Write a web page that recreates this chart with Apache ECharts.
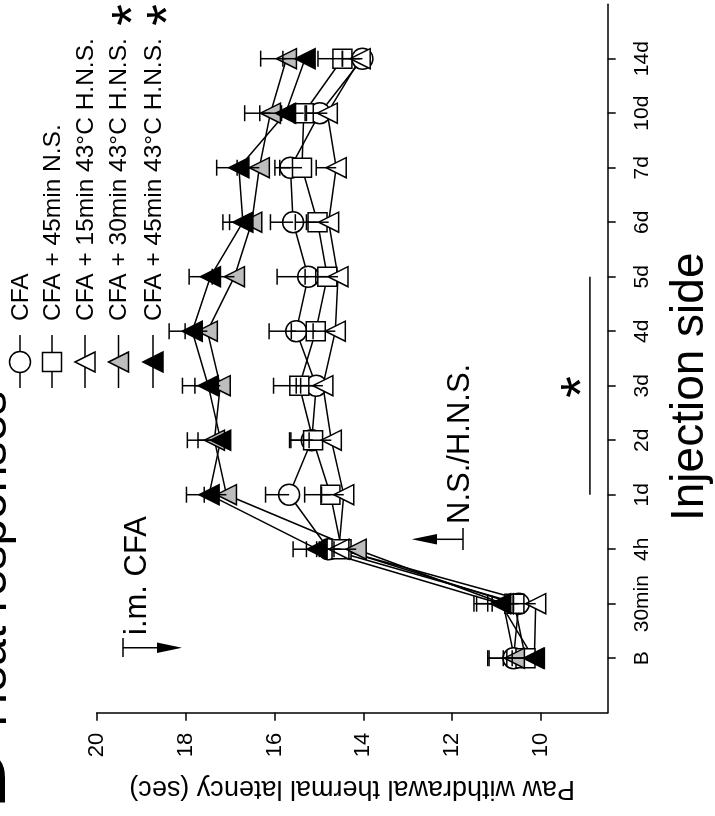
<!DOCTYPE html>
<html>
<head>
<meta charset="utf-8">
<script src="https://cdn.jsdelivr.net/npm/echarts@6/dist/echarts.min.js"></script>
<style>
  html, body { margin: 0; padding: 0; background: #fff; }
  #chart { width: 715px; height: 816px; }
</style>
</head>
<body>
<div id="chart"></div>
<script>
// time points (category axis, drawn vertically)
const categories = ['B', '30min', '4h', '1d', '2d', '3d', '4d', '5d', '6d', '7d', '10d', '14d'];
const valueTicks = [10, 12, 14, 16, 18, 20];
const seriesNames = [
  'CFA',
  'CFA + 45min N.S.',
  'CFA + 15min 43°C H.N.S.',
  'CFA + 30min 43°C H.N.S.',
  'CFA + 45min 43°C H.N.S.'
];

// paw withdrawal latency (sec), mean and SEM
const cfa      = [10.62, 10.50, 14.78, 15.67, 15.16, 15.06, 15.51, 15.24, 15.58, 15.64, 14.98, 14.02];
const cfaErr   = [0.55, 0.60, 0.50, 0.53, 0.50, 0.45, 0.61, 0.70, 0.51, 0.35, 0.30, 0.45];
const ns45     = [10.35, 10.60, 14.49, 14.74, 15.13, 15.44, 15.07, 14.81, 15.03, 15.38, 15.34, 14.47];
const ns45Err  = [0.50, 0.60, 0.50, 0.58, 0.50, 0.58, 0.55, 0.50, 0.50, 0.50, 0.50, 0.55];
const hns15    = [10.15, 10.12, 14.55, 14.44, 14.72, 14.91, 14.63, 14.57, 14.78, 14.61, 14.81, 14.07];
const hns15Err = [0.50, 0.50, 0.50, 0.50, 0.50, 0.50, 0.50, 0.50, 0.50, 0.45, 0.50, 0.40];
const hns30    = [10.60, 10.85, 14.16, 17.08, 17.35, 17.22, 17.51, 16.90, 16.51, 16.34, 16.09, 15.73];
const hns30Err = [0.60, 0.60, 0.50, 0.50, 0.61, 0.57, 0.50, 0.50, 0.50, 0.50, 0.58, 0.58];
const hns45    = [10.17, 10.91, 15.04, 17.47, 17.21, 17.49, 17.85, 17.44, 16.71, 16.80, 15.75, 15.31];
const hns45Err = [0.60, 0.60, 0.54, 0.51, 0.51, 0.58, 0.52, 0.48, 0.45, 0.50, 0.58, 0.50];

// significance bar: from 1d to 5d
const sigFrom = '1d';
const sigTo = '5d';

const FONT = '"Liberation Sans", Arial, Helvetica, sans-serif';
const groups = [cfa, ns45, hns15, hns30, hns45];
const errs = [cfaErr, ns45Err, hns15Err, hns30Err, hns45Err];
const marks = [
  { symbol: 'circle', size: 21, rotate: 0, fill: '#ffffff' },
  { symbol: 'rect', size: 19, rotate: 0, fill: '#ffffff' },
  { symbol: 'triangle', size: 20, rotate: 90, fill: '#ffffff' },
  { symbol: 'triangle', size: 20, rotate: 90, fill: '#bdbdbd' },
  { symbol: 'triangle', size: 20, rotate: 90, fill: '#000000' }
];
const catIdx = categories.map((c, i) => i);

const chart = echarts.init(document.getElementById('chart'));

const lineSeries = groups.map((vals, g) => ({
  name: seriesNames[g],
  type: 'line',
  data: vals.map((v, i) => [v, i]),
  symbol: marks[g].symbol,
  symbolSize: marks[g].size,
  symbolRotate: marks[g].rotate,
  showAllSymbol: true,
  clip: false,
  lineStyle: { color: '#000', width: 1.5 },
  itemStyle: { color: marks[g].fill, borderColor: '#000', borderWidth: 1.5 },
  emphasis: { disabled: true },
  z: 2
}));

const errSeries = groups.map((vals, g) => ({
  type: 'custom',
  data: vals.map((v, i) => [v, i, errs[g][i]]),
  encode: { x: 0, y: 1 },
  z: 3,
  silent: true,
  renderItem: function (params, api) {
    const v = api.value(0), i = api.value(1), e = api.value(2);
    const p0 = api.coord([v, i]);
    const p1 = api.coord([v + e, i]);
    const st = { stroke: '#000', lineWidth: 1.5 };
    return {
      type: 'group',
      children: [
        { type: 'line', shape: { x1: p0[0], y1: p0[1], x2: p1[0], y2: p1[1] }, style: st },
        { type: 'line', shape: { x1: p1[0], y1: p1[1] - 8, x2: p1[0], y2: p1[1] + 8 }, style: st }
      ]
    };
  }
}));

const sigSeries = {
  type: 'line',
  data: [[8.9, categories.indexOf(sigFrom)], [8.9, categories.indexOf(sigTo)]],
  symbol: 'none',
  clip: false,
  lineStyle: { color: '#000', width: 1.5 },
  silent: true,
  z: 2
};

// legend, drawn rotated like the rest of the figure
const legendX = [20, 52, 85, 118.5, 153];
const legendGraphics = [];
seriesNames.forEach((name, g) => {
  const cx = legendX[g], cy = 362;
  legendGraphics.push({ type: 'line', shape: { x1: cx, y1: 335, x2: cx, y2: 388 }, style: { stroke: '#000', lineWidth: 1.5 } });
  const st = { fill: marks[g].fill, stroke: '#000', lineWidth: 1.5 };
  if (marks[g].symbol === 'circle') {
    legendGraphics.push({ type: 'circle', shape: { cx: cx, cy: cy, r: 10.5 }, style: st });
  } else if (marks[g].symbol === 'rect') {
    legendGraphics.push({ type: 'rect', shape: { x: cx - 9.5, y: cy - 9.5, width: 19, height: 19 }, style: st });
  } else {
    legendGraphics.push({ type: 'polygon', shape: { points: [[cx - 10, cy], [cx + 10, cy - 10], [cx + 10, cy + 10]] }, style: st });
  }
  legendGraphics.push({
    type: 'text', x: cx + 1, y: 321, rotation: Math.PI / 2,
    style: { text: name, fontSize: 24.5, fontFamily: FONT, fill: '#000', align: 'left', verticalAlign: 'middle' }
  });
});

function rotText(text, x, y, size, extra) {
  return {
    type: 'text', x: x, y: y, rotation: Math.PI / 2,
    style: Object.assign({ text: text, fontSize: size, fontFamily: FONT, fill: '#000', align: 'left', verticalAlign: 'middle' }, extra || {})
  };
}

const lineSt = { stroke: '#000', lineWidth: 1.5 };
const annotations = [
  rotText('Heat responses', -7, 727, 48),
  rotText('B', -20, 810, 90),
  rotText('i.m. CFA', 137.5, 635, 31),
  rotText('N.S./H.N.S.', 460.5, 524, 31),
  rotText('Injection side', 690.7, 521, 46),
  rotText('*', 134.5, 15, 56, { align: 'center' }),
  rotText('*', 169.5, 15, 56, { align: 'center' }),
  rotText('*', 584, 387, 56, { align: 'center' }),
  // i.m. CFA arrow
  { type: 'line', shape: { x1: 123, y1: 647.7, x2: 160, y2: 647.7 }, style: lineSt },
  { type: 'line', shape: { x1: 123, y1: 638, x2: 123, y2: 657 }, style: lineSt },
  { type: 'polygon', shape: { points: [[182, 647.7], [157, 642.5], [157, 652.9]] }, style: { fill: '#000' } },
  // N.S./H.N.S. arrow
  { type: 'line', shape: { x1: 432, y1: 539.3, x2: 463, y2: 539.3 }, style: lineSt },
  { type: 'line', shape: { x1: 463, y1: 528, x2: 463, y2: 550 }, style: lineSt },
  { type: 'polygon', shape: { points: [[411.7, 539.3], [437, 534.1], [437, 544.5]] }, style: { fill: '#000' } }
];

chart.setOption({
  animation: false,
  backgroundColor: '#fff',
  textStyle: { fontFamily: FONT },
  grid: { left: 96.7, right: 107.3, top: 4.2, bottom: 103.3, containLabel: false },
  xAxis: {
    type: 'value',
    inverse: true,
    min: 8.5,
    max: 20,
    position: 'bottom',
    name: 'Paw withdrawal thermal latency (sec)',
    nameLocation: 'middle',
    nameRotate: 180,
    nameGap: 62,
    nameTextStyle: { fontSize: 27, color: '#000', fontFamily: FONT },
    axisLine: { onZero: false, lineStyle: { color: '#000', width: 1.5 } },
    axisTick: { customValues: valueTicks, length: 8, lineStyle: { color: '#000', width: 1.5 } },
    axisLabel: { customValues: valueTicks, rotate: 90, margin: 20, fontSize: 22, color: '#000', fontFamily: FONT },
    splitLine: { show: false }
  },
  yAxis: {
    type: 'value',
    min: -1,
    max: categories.length,
    position: 'right',
    axisLine: { show: true, onZero: false, lineStyle: { color: '#000', width: 1.5 } },
    axisTick: { show: true, customValues: catIdx, length: 8, lineStyle: { color: '#000', width: 1.5 } },
    axisLabel: {
      customValues: catIdx, rotate: 90, margin: 24, fontSize: 21, color: '#000', fontFamily: FONT,
      formatter: function (v) { return categories[v]; }
    },
    splitLine: { show: false }
  },
  series: lineSeries.concat(errSeries, [sigSeries]),
  graphic: legendGraphics.concat(annotations)
});
</script>
</body>
</html>
